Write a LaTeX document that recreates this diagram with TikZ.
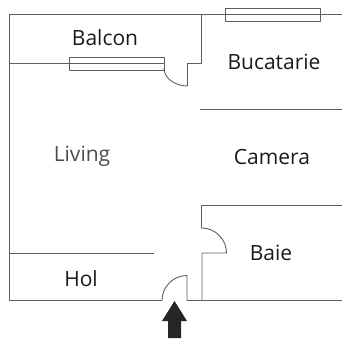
\documentclass[tikz,border=0pt]{standalone}
\usepackage{fontspec}
\setmainfont{Open Sans}
\definecolor{wallgray}{HTML}{5E5E5E}
\definecolor{labelgray}{HTML}{1A1A1A}
\tikzset{wall/.style={draw=wallgray,line width=0.9pt},
         room/.style={font=\fontsize{21}{24}\selectfont,text=labelgray,inner sep=0pt}}
\begin{document}
\begin{tikzpicture}[x=1pt,y=-1pt, line join=round]
            \useasboundingbox (0,0) rectangle (342,338);
            % outer walls
            \draw[wall] (342,14.5)--(9,14.5)--(9,300.5)--(162,300.5);
            \draw[wall] (187,300.5)--(342,300.5);
            % balcon
            \draw[wall] (9,63)--(164,63);
            \draw[wall] (69,57) rectangle (164,70);
            \draw[wall] (201.5,14.5)--(201.5,63)--(187.5,63)--(187.5,86);
            \draw[wall] (164,68) arc[start angle=180,end angle=90,x radius=23.5,y radius=18];
            % bucatarie
            \draw[wall] (225,8) rectangle (320,21);
            \draw[wall] (200,109.5)--(342,109.5);
            % baie
            \draw[wall] (342,205)--(201.5,205)--(201.5,228);
            \draw[wall] (201.5,228) arc[start angle=90,end angle=0,x radius=25,y radius=-25]--(202,253)--(202,300.5);
            % hol
            \draw[wall] (9,253)--(154,253);
            \draw[wall] (162,300.5) arc[start angle=180,end angle=90,x radius=25,y radius=-25]--(187,300.5);
            % intrare
            \fill[black!85] (174.5,301)--(187,321)--(181,321)--(181,338)--(168,338)--(168,321)--(162,321)--cycle;
            % camere
            \node[room] (balcon) at (105,38) {Balcon};
            \node[room] (bucatarie) at (274,62) {Bucatarie};
            \node[room,text=black!70] (living) at (82,156) {Living};
            \node[room] (camera) at (272,157) {Camera};
            \node[room] (baie) at (271,253) {Baie};
            \node[room] (hol) at (81,279) {Hol};
        \end{tikzpicture}
\end{document}
